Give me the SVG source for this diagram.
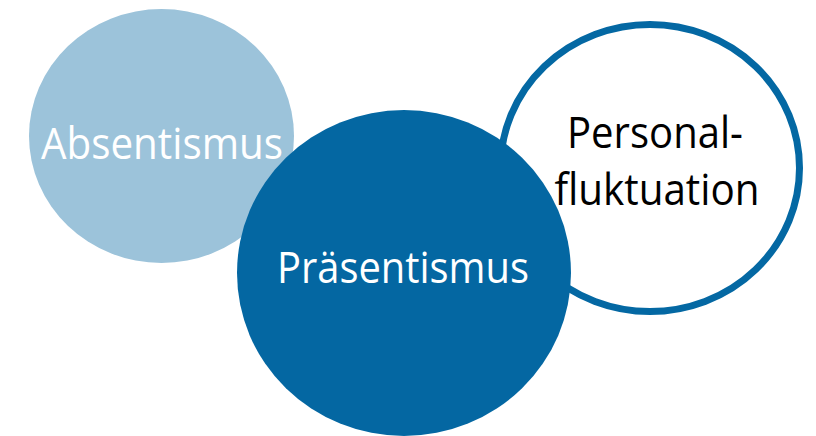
<svg xmlns="http://www.w3.org/2000/svg" width="816" height="436" viewBox="0 0 816 436">
<style>
.lbl{font-family:"Open Sans","Liberation Sans",sans-serif;font-size:44px;text-anchor:middle}
</style>
<rect width="816" height="436" fill="#ffffff"/>
<g id="personalfluktuation">
<ellipse cx="650" cy="168" rx="149.5" ry="143.5" fill="#ffffff" stroke="#0468A3" stroke-width="7"/>
<text class="lbl" x="655" y="148" fill="#000000" textLength="176" lengthAdjust="spacingAndGlyphs">Personal-</text>
<text class="lbl" x="657" y="205" fill="#000000" textLength="205" lengthAdjust="spacingAndGlyphs">fluktuation</text>
</g>
<g id="absentismus">
<ellipse cx="161.5" cy="136" rx="132.5" ry="127" fill="#9CC3DA"/>
<text class="lbl" x="162" y="159" fill="#ffffff" textLength="242" lengthAdjust="spacingAndGlyphs">Absentismus</text>
</g>
<g id="praesentismus">
<ellipse cx="404" cy="273" rx="167" ry="163" fill="#0467A2"/>
<text class="lbl" x="403" y="283" fill="#ffffff" textLength="252" lengthAdjust="spacingAndGlyphs">Präsentismus</text>
</g>
<g id="connectors"/>
</svg>
